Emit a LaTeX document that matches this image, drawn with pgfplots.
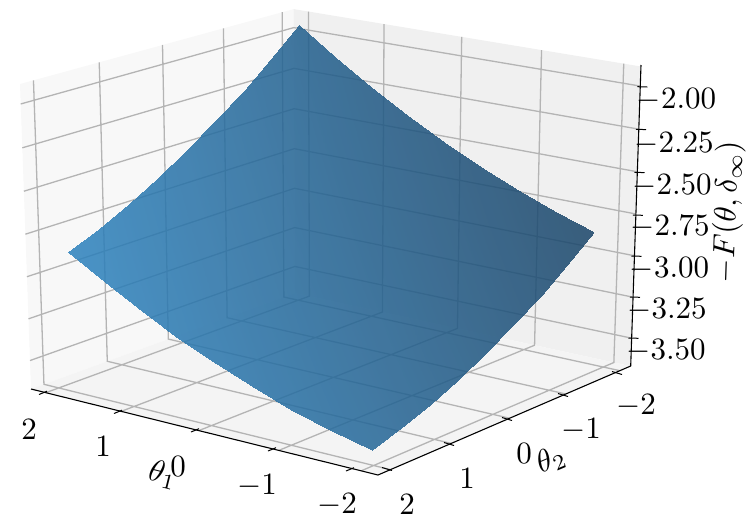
\documentclass[border=0pt]{standalone}
\usepackage{pgfplots}
\pgfplotsset{compat=1.18}
\definecolor{gridc}{HTML}{B4B4B4}
\definecolor{paneL}{HTML}{F8F8F8}
\definecolor{paneR}{HTML}{F0F0F0}
\definecolor{paneF}{HTML}{F4F4F4}
% camera: (theta1, theta2, F) to picture pixels
\def\A{((2.2-\thisrow{t1})/4.4)}
\def\B{((2.2-\thisrow{t2})/4.4)}
\def\C{((\thisrow{z}+3.672)/1.785)}
\def\den{(1-0.0634*\A+0.0835*\B-0.035*\C)}
\def\pu{((31+323.03*\A+288.63*\B-11.7*\C)/\den)}
\def\pv{((389+55.89*\A-71.53*\B-307.94*\C)/\den)}
\pgfplotsset{table/cam/.style={x expr=\pu, y expr=\pv}}
\tikzset{lab/.style={scale=3.1, inner sep=0pt}}
\begin{document}
\begin{tikzpicture}
\begin{axis}[
  scale only axis, width=748pt, height=523pt,
  xmin=0, xmax=748, ymin=0, ymax=523,
  y dir=reverse, hide axis, clip=false,
  unbounded coords=jump,
  colormap={surfc}{rgb255(0cm)=(25,68,104); rgb255(1cm)=(44,130,190)},
]
% keep the whole canvas in the bounding box
\path (axis cs:0,0) rectangle (axis cs:748,523);
% panes
\addplot[fill=paneL, draw=none] table[cam] {
t1 t2 z
2.2 2.2 -3.672
2.2 -2.2 -3.672
2.2 -2.2 -1.887
2.2 2.2 -1.887
} -- cycle;
\addplot[fill=paneR, draw=none] table[cam] {
t1 t2 z
2.2 -2.2 -3.672
-2.2 -2.2 -3.672
-2.2 -2.2 -1.887
2.2 -2.2 -1.887
} -- cycle;
\addplot[fill=paneF, draw=none] table[cam] {
t1 t2 z
2.2 2.2 -3.672
-2.2 2.2 -3.672
-2.2 -2.2 -3.672
2.2 -2.2 -3.672
} -- cycle;
% grid
\addplot[gridc, line width=1.3pt, empty line=jump] table[cam] {
t1 t2 z
2 2.2 -3.672
2 -2.2 -3.672
2 -2.2 -1.887

1 2.2 -3.672
1 -2.2 -3.672
1 -2.2 -1.887

0 2.2 -3.672
0 -2.2 -3.672
0 -2.2 -1.887

-1 2.2 -3.672
-1 -2.2 -3.672
-1 -2.2 -1.887

-2 2.2 -3.672
-2 -2.2 -3.672
-2 -2.2 -1.887

-2.2 2 -3.672
2.2 2 -3.672
2.2 2 -1.887

-2.2 1 -3.672
2.2 1 -3.672
2.2 1 -1.887

-2.2 0 -3.672
2.2 0 -3.672
2.2 0 -1.887

-2.2 -1 -3.672
2.2 -1 -3.672
2.2 -1 -1.887

-2.2 -2 -3.672
2.2 -2 -3.672
2.2 -2 -1.887

2.2 2.2 -2.00
2.2 -2.2 -2.00
-2.2 -2.2 -2.00

2.2 2.2 -2.25
2.2 -2.2 -2.25
-2.2 -2.2 -2.25

2.2 2.2 -2.50
2.2 -2.2 -2.50
-2.2 -2.2 -2.50

2.2 2.2 -2.75
2.2 -2.2 -2.75
-2.2 -2.2 -2.75

2.2 2.2 -3.00
2.2 -2.2 -3.00
-2.2 -2.2 -3.00

2.2 2.2 -3.25
2.2 -2.2 -3.25
-2.2 -2.2 -3.25

2.2 2.2 -3.50
2.2 -2.2 -3.50
-2.2 -2.2 -3.50
};
% surface
\addplot[surf, shader=interp, opacity=0.85, mesh/rows=9, mesh/cols=9,
  point meta={\thisrow{t1}+1.3*\thisrow{t2}}] table[cam] {
t1 t2 z
-1.9 -1.9 -2.8515
-1.9 -1.425 -2.9859
-1.9 -0.95 -3.1090
-1.9 -0.475 -3.2209
-1.9 0 -3.3215
-1.9 0.475 -3.4109
-1.9 0.95 -3.4890
-1.9 1.425 -3.5559
-1.9 1.9 -3.6115
-1.425 -1.9 -2.7759
-1.425 -1.425 -2.9129
-1.425 -0.95 -3.0386
-1.425 -0.475 -3.1533
-1.425 0 -3.2565
-1.425 0.475 -3.3485
-1.425 0.95 -3.4294
-1.425 1.425 -3.4989
-1.425 1.9 -3.5571
-0.95 -1.9 -2.6891
-0.95 -1.425 -2.8287
-0.95 -0.95 -2.9571
-0.95 -0.475 -3.0744
-0.95 0 -3.1803
-0.95 0.475 -3.2750
-0.95 0.95 -3.3585
-0.95 1.425 -3.4307
-0.95 1.9 -3.4915
-0.475 -1.9 -2.5909
-0.475 -1.425 -2.7333
-0.475 -0.95 -2.8643
-0.475 -0.475 -2.9843
-0.475 0 -3.0928
-0.475 0.475 -3.1901
-0.475 0.95 -3.2763
-0.475 1.425 -3.3511
-0.475 1.9 -3.4147
0 -1.9 -2.4815
0 -1.425 -2.6265
0 -0.95 -2.7602
0 -0.475 -2.8828
0 0 -2.9940
0 0.475 -3.0940
0 0.95 -3.1828
0 1.425 -3.2603
0 1.9 -3.3265
0.475 -1.9 -2.3609
0.475 -1.425 -2.5085
0.475 -0.95 -2.6449
0.475 -0.475 -2.7701
0.475 0 -2.8840
0.475 0.475 -2.9867
0.475 0.95 -3.0781
0.475 1.425 -3.1583
0.475 1.9 -3.2271
0.95 -1.9 -2.2289
0.95 -1.425 -2.3793
0.95 -0.95 -2.5183
0.95 -0.475 -2.6462
0.95 0 -2.7627
0.95 0.475 -2.8680
0.95 0.95 -2.9621
0.95 1.425 -3.0449
0.95 1.9 -3.1165
1.425 -1.9 -2.0859
1.425 -1.425 -2.2389
1.425 -0.95 -2.3806
1.425 -0.475 -2.5111
1.425 0 -2.6303
1.425 0.475 -2.7383
1.425 0.95 -2.8350
1.425 1.425 -2.9205
1.425 1.9 -2.9947
1.9 -1.9 -1.9315
1.9 -1.425 -2.0871
1.9 -0.95 -2.2314
1.9 -0.475 -2.3647
1.9 0 -2.4865
1.9 0.475 -2.5971
1.9 0.95 -2.6966
1.9 1.425 -2.7847
1.9 1.9 -2.8615
};
% axis lines and ticks
\addplot[black, line width=1.1pt] coordinates {(31,389) (378,475) (630.7,366) (641,65)};
\addplot[black, line width=1pt] coordinates {
(39,394.5) (47,391.2) (nan,nan) (114,413.5) (122,410.2) (nan,nan)
(191,432) (199,428.7) (nan,nan) (268,451) (276,447.7) (nan,nan)
(346,471) (354,467.7) (nan,nan)
(382,467.5) (392,470.5) (nan,nan) (444,442.5) (454,445.5) (nan,nan)
(502,417.5) (512,420.5) (nan,nan) (558,393.5) (568,396.5) (nan,nan)
(612,371.5) (622,374.5) (nan,nan)
(637.3,86.7) (647.3,87) (nan,nan) (636,129.3) (646,129.6) (nan,nan)
(634.5,172.3) (644.5,172.6) (nan,nan) (632.8,215) (642.8,215.3) (nan,nan)
(631.5,256) (641.5,256.3) (nan,nan) (630,297) (640,297.3) (nan,nan)
(628.5,338) (638.5,338.3)
};
% tick labels
\node[lab] at (axis cs:29,430) {$2$};
\node[lab] at (axis cs:103,447) {$1$};
\node[lab] at (axis cs:178,467) {$0$};
\node[lab] at (axis cs:257,486) {$-1$};
\node[lab] at (axis cs:337,505) {$-2$};
\node[lab] at (axis cs:407,505) {$2$};
\node[lab] at (axis cs:467,479) {$1$};
\node[lab] at (axis cs:524,454) {$0$};
\node[lab] at (axis cs:581,430) {$-1$};
\node[lab] at (axis cs:636,406) {$-2$};
\node[lab] at (axis cs:676.5,100) {$-2.00$};
\node[lab] at (axis cs:674,144) {$-2.25$};
\node[lab] at (axis cs:672,186) {$-2.50$};
\node[lab] at (axis cs:670,227) {$-2.75$};
\node[lab] at (axis cs:669.5,269) {$-3.00$};
\node[lab] at (axis cs:667,310) {$-3.25$};
\node[lab] at (axis cs:666,351) {$-3.50$};
% axis labels
\node[lab, rotate=-14] at (axis cs:163,475) {$\theta_1$};
\node[lab, rotate=23] at (axis cs:551,460) {$\theta_2$};
\node[lab, rotate=88] at (axis cs:728,212) {$-F(\theta,\delta_\infty)$};
\end{axis}
\end{tikzpicture}
\end{document}
